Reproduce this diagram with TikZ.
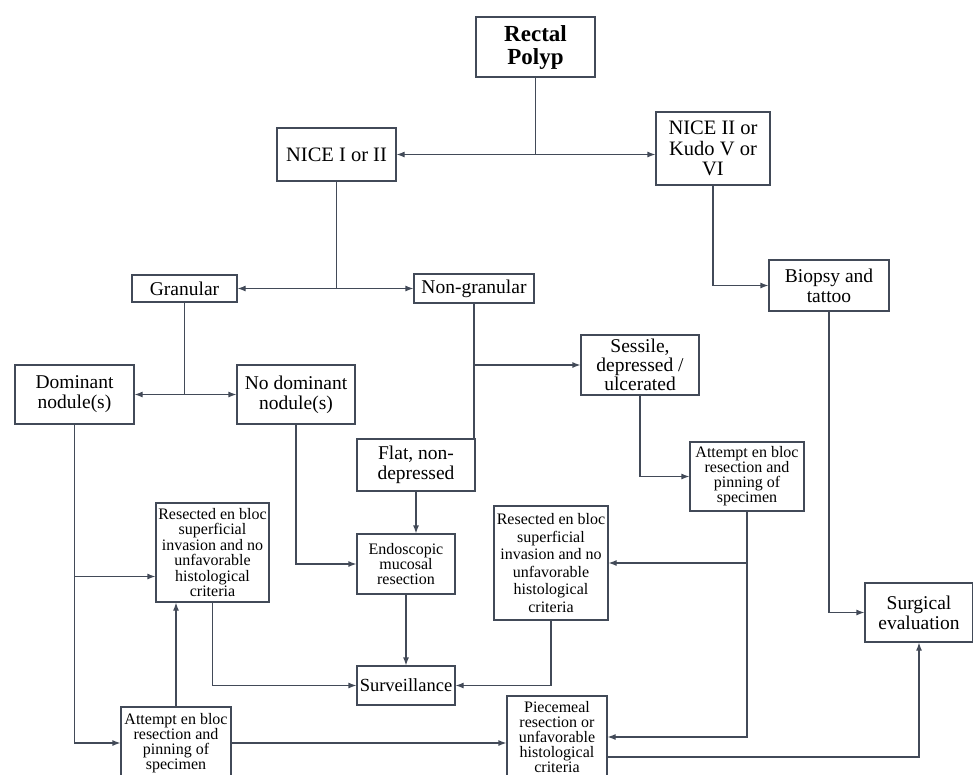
\documentclass[tikz,border=0pt]{standalone}
\usepackage{fontspec}
\setmainfont{Liberation Serif}
\usepackage{tikz}
\usetikzlibrary{positioning, arrows.meta}

\definecolor{edge}{RGB}{66,74,88}

\begin{document}
\begin{tikzpicture}[
      x=1pt, y=-1pt,
      every node/.style={align=center, draw=edge, line width=1.2pt, inner sep=1pt},
      box/.style 2 args={minimum width=#1, minimum height=#2},
      title/.style={font=\fontsize{23}{23}\selectfont\bfseries},
      nice/.style={font=\fontsize{20.5}{20.5}\selectfont},
      big/.style={font=\fontsize{19.5}{20}\selectfont},
      small/.style={font=\fontsize{16}{15}\selectfont},
      resect/.style={font=\fontsize{16}{15.5}\selectfont},
      link/.style={line width=1.2pt, draw=edge},
      arrow/.style={-{Latex[length=8pt,width=6pt]}, line width=1.2pt, draw=edge}
  ]
  \useasboundingbox (0,0) rectangle (973,774);

  % Nodes ------------------------------------------------
  \node[title, box={119}{60}] (polyp) at (535.5,47) {Rectal\\ Polyp};
  \node[nice, box={119}{53}] (niceA) at (336.5,154.5) {NICE I or II};
  \node[nice, box={114}{73}] (niceB) at (713,148.5) {NICE II or\\ Kudo V or\\ VI};
  \node[big, box={105}{27}] (gran) at (184.5,288.5) {Granular};
  \node[big, box={120}{29}] (ngran) at (474,288.5) {Non-granular};
  \node[big, box={120}{51}] (biopsy) at (829,285.5) {Biopsy and\\ tattoo};
  \node[big, box={119}{59}] (dom) at (74.5,394.5) {Dominant\\ nodule(s)};
  \node[big, box={118}{59}] (nodom) at (296,394.5) {No dominant\\ nodule(s)};
  \node[big, font=\fontsize{19.5}{19}\selectfont, box={118}{60}] (sess) at (640,365) {Sessile,\\ depressed /\\ ulcerated};
  \node[big, box={118}{52}] (flat) at (416,465) {Flat, non-\\ depressed};
  \node[small, box={114}{69}] (attR) at (747,476.5) {Attempt en bloc\\ resection and\\ pinning of\\ specimen};
  \node[resect, box={113}{99}] (resL) at (212.5,552.5) {Resected en bloc\\ superficial\\ invasion and no\\ unfavorable\\ histological\\ criteria};
  \node[small, box={98}{60}] (endo) at (406,564) {Endoscopic\\ mucosal\\ resection};
  \node[resect, font=\fontsize{16}{17.5}\selectfont, box={114}{114}] (resR) at (551,563) {Resected en bloc\\ superficial\\ invasion and no\\ unfavorable\\ histological\\ criteria};
  \node[big, box={108}{59}] (surg) at (919,612.5) {Surgical\\ evaluation};
  \node[big, font=\fontsize{18.5}{18.5}\selectfont, box={98}{39}] (surv) at (406,685.5) {Surveillance};
  \node[small, box={110}{72}] (attL) at (176,743) {Attempt en bloc\\ resection and\\ pinning of\\ specimen};
  \node[small, box={100}{82}] (piece) at (557,737) {Piecemeal\\ resection or\\ unfavorable\\ histological\\ criteria};

  % Arrows ------------------------------------------------
  \coordinate (s1) at (polyp |- niceA);
  \draw[link] (polyp) -- (s1);
  \draw[arrow] (s1) -- (niceA);
  \draw[arrow] (s1) -- (s1 -| niceB.west);

  \coordinate (s2) at (niceA |- gran);
  \draw[link] (niceA) -- (s2);
  \draw[arrow] (s2) -- (gran);
  \draw[arrow] (s2) -- (ngran);

  \coordinate (s3) at (gran |- dom);
  \draw[link] (gran) -- (s3);
  \draw[arrow] (s3) -- (dom);
  \draw[arrow] (s3) -- (nodom);

  \draw[link] (ngran) -- (ngran |- flat.north);
  \draw[arrow] (ngran |- sess) -- (sess);
  \draw[arrow] (niceB) |- (biopsy);
  \draw[arrow] (biopsy) |- (surg);
  \draw[arrow] (sess) |- (attR);
  \draw[arrow] (flat.south) -- (flat.south |- endo.north);
  \draw[arrow] (nodom) |- (endo);

  \draw[arrow] (dom) |- (attL);
  \draw[arrow] ([yshift=-24pt]resL.west -| dom) -- ([yshift=-24pt]resL.west);
  \draw[arrow] (attL.north) -- (attL.north |- resL.south);
  \draw[arrow] (resL) |- (surv);
  \draw[arrow] (endo) -- (surv);
  \draw[arrow] (resR) |- (surv);
  \draw[arrow] (attR) |- (piece);
  \draw[arrow] (attR |- resR) -- (resR);
  \draw[arrow] (attL.east) -- (attL.east -| piece.west);
  \draw[arrow] ([yshift=-20pt]piece.east) -| (surg);
\end{tikzpicture}
\end{document}
